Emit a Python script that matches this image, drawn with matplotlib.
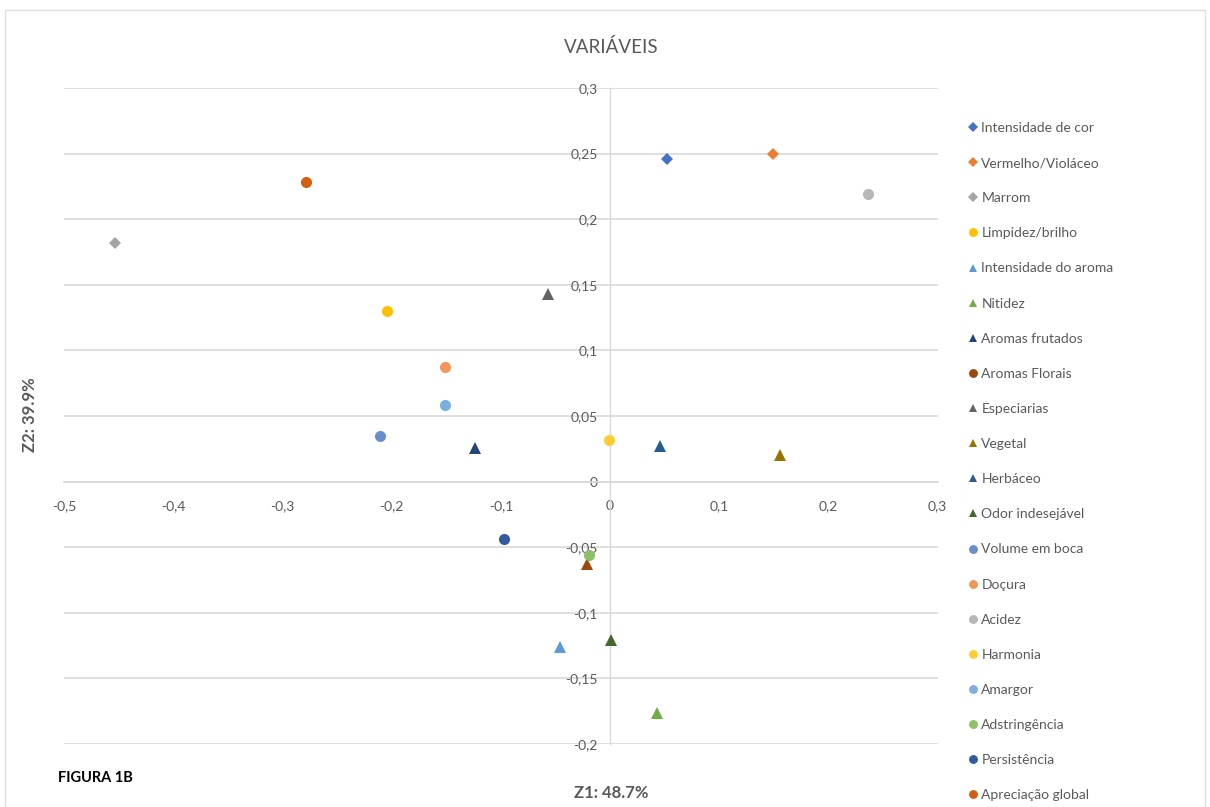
import matplotlib
matplotlib.use("Agg")
import matplotlib.pyplot as plt
from matplotlib.ticker import FuncFormatter, MultipleLocator
from matplotlib.patches import Rectangle
from matplotlib.lines import Line2D

plt.rcParams['font.family'] = ['Lato', 'DejaVu Sans']

# variáveis (nome, Z1, Z2)
nomes = ["Intensidade de cor", "Vermelho/Violáceo", "Marrom", "Limpidez/brilho",
         "Intensidade do aroma", "Nitidez", "Aromas frutados", "Aromas Florais",
         "Especiarias", "Vegetal", "Herbáceo", "Odor indesejável", "Volume em boca",
         "Doçura", "Acidez", "Harmonia", "Amargor", "Adstringência", "Persistência",
         "Apreciação global"]
z1 = [0.052, 0.149, -0.453, -0.204, -0.046, 0.043, -0.124, -0.021, -0.057, 0.156,
      0.046, 0.001, -0.211, -0.151, 0.236, -0.001, -0.151, -0.019, -0.097, -0.278]
z2 = [0.2456, 0.2497, 0.182, 0.130, -0.126, -0.176, 0.026, -0.063, 0.143, 0.0205,
      0.027, -0.121, 0.035, 0.087, 0.219, 0.032, 0.0585, -0.056, -0.044, 0.228]
# marcador no gráfico e na legenda (Aromas Florais aparece como triângulo no gráfico)
marcadores = ["D", "D", "D", "o", "^", "^", "^", "^", "^", "^",
              "^", "^", "o", "o", "o", "o", "o", "o", "o", "o"]
marcadores_leg = ["D", "D", "D", "o", "^", "^", "^", "o", "^", "^",
                  "^", "^", "o", "o", "o", "o", "o", "o", "o", "o"]
cores = ["#4472C4", "#ED7D31", "#A5A5A5", "#FFC000", "#5B9BD5", "#70AD47", "#264478",
         "#9E480E", "#636363", "#997300", "#255E91", "#43682B", "#698ED0", "#F1975A",
         "#B7B7B7", "#FFCD33", "#7CAFDD", "#8CC168", "#335AA1", "#D26012"]

cinza = "#595959"
linha = "#D9D9D9"

def tamanho(m):
    return 6 if m == "D" else 8

fig = plt.figure(figsize=(12.1, 8.07), dpi=100)
ax = fig.add_axes([0.0529, 0.078, 0.722, 0.813])

for x, y, m, c in zip(z1, z2, marcadores, cores):
    ax.plot(x, y, linestyle="none", marker=m, markersize=tamanho(m), color=c,
            markeredgewidth=0, zorder=3)

ax.set_xlim(-0.5, 0.3)
ax.set_ylim(-0.2, 0.3)
ax.xaxis.set_major_locator(MultipleLocator(0.1))
ax.yaxis.set_major_locator(MultipleLocator(0.05))
virgula = FuncFormatter(lambda v, p: ("%g" % round(v, 3)).replace(".", ","))
ax.xaxis.set_major_formatter(virgula)
ax.yaxis.set_major_formatter(virgula)

ax.grid(True, axis="y", color=linha, linewidth=1.2, zorder=0)
ax.spines["top"].set_visible(False)
ax.spines["right"].set_visible(False)
ax.spines["bottom"].set_position(("data", 0))
ax.spines["left"].set_position(("data", 0))
ax.spines["bottom"].set_color(linha)
ax.spines["left"].set_color(linha)
ax.spines["bottom"].set_linewidth(1.2)
ax.spines["left"].set_linewidth(1.0)
ax.tick_params(axis="x", length=0, pad=13, labelsize=10, labelcolor=cinza)
ax.tick_params(axis="y", length=0, pad=9, labelsize=10, labelcolor=cinza)

fig.text(0.505, 1 - 47 / 807, "VARIÁVEIS", ha="center", va="center", fontsize=13.5, color=cinza)
fig.text(30 / 1210, 1 - 415 / 807, "Z2: 39.9%", rotation=90, ha="center", va="center",
         fontsize=12, fontweight="bold", color=cinza)
fig.text(0.505, 1 - 793 / 807, "Z1: 48.7%", ha="center", va="center",
         fontsize=12, fontweight="bold", color=cinza)
fig.text(58 / 1210, 1 - 778 / 807, "FIGURA 1B", ha="left", va="center",
         fontsize=10.5, fontweight="bold", color="black")

alcas = [Line2D([], [], linestyle="none", marker=m, markersize=tamanho(m) * 0.8,
                color=c, markeredgewidth=0) for m, c in zip(marcadores_leg, cores)]
ax.legend(alcas, nomes, loc="upper left", bbox_to_anchor=(962 / 1210, 1 - 115 / 807),
          bbox_transform=fig.transFigure, frameon=False, fontsize=10,
          labelcolor=cinza, handlelength=0.6, handletextpad=0.3,
          labelspacing=1.665, borderpad=0)

fig.patches.append(Rectangle((0.004, -0.02), 0.992, 1.008, transform=fig.transFigure,
                             fill=False, edgecolor="#E0E0E0", linewidth=1))

fig.savefig("out.png", dpi=100)
